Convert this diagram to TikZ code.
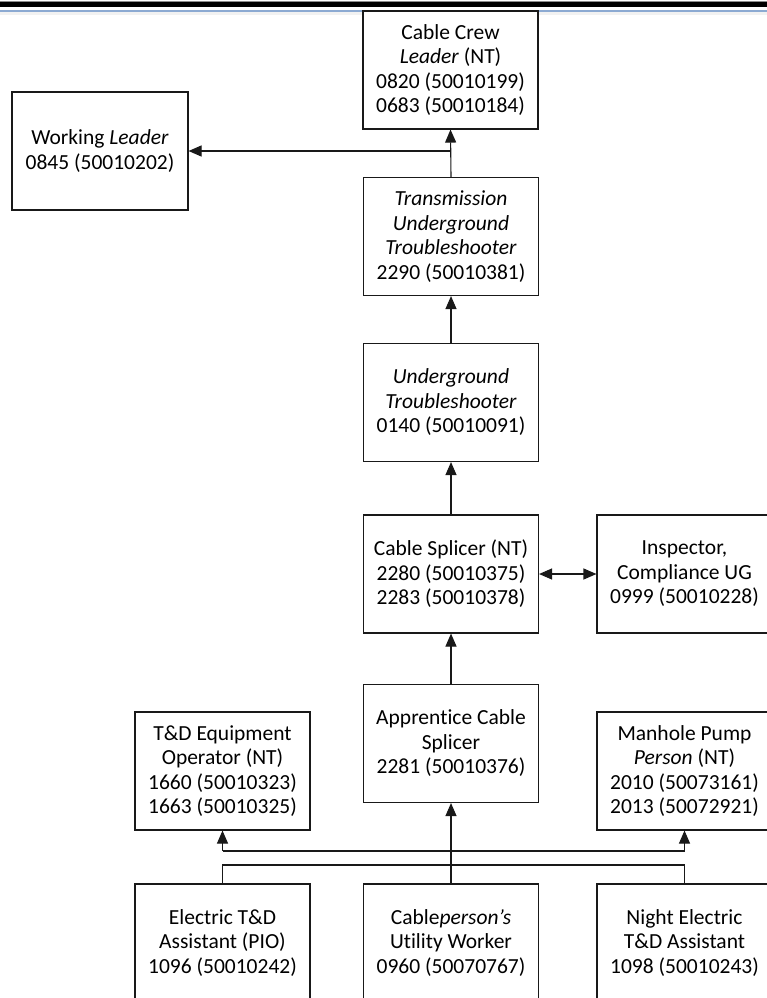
\documentclass[tikz,border=0pt]{standalone}
\usepackage{fontspec}
\setmainfont{Carlito}[Ligatures={NoCommon}]
\usetikzlibrary{arrows.meta}
\definecolor{rulebl}{RGB}{140,170,210}
\begin{document}
\begin{tikzpicture}[x=1pt,y=-1pt,
  box/.style={draw=black!90, line width=1.1pt, fill=white, minimum width=175pt,
    minimum height=118pt, align=center, inner sep=0pt,
    font=\fontsize{21.5}{24.5}\selectfont},
  conn/.style={line width=1.1pt, draw=black!90},
  arr/.style={conn, -{Triangle[length=13pt,width=11pt]}},
  dblarr/.style={conn, {Triangle[length=13pt,width=11pt]}-{Triangle[length=13pt,width=11pt]}},
]
\useasboundingbox (0,0) rectangle (767,998);
% header rules
\fill[black!45] (0,1) rectangle (767,2.5);
\fill[black] (0,2.5) rectangle (767,7.5);
\fill[black!5] (0,11.5) rectangle (767,15);
\draw[rulebl, line width=1.8pt] (0,10.8) -- (767,10.8);

% boxes
\node[box] (crew) at (450.5,70) {Cable Crew\\\textit{Leader} (NT)\\0820 (50010199)\\0683 (50010184)};
\node[box, minimum width=176pt] (wl) at (100,151) {Working \textit{Leader}\\0845 (50010202)};
\node[box] (trans) at (451,236.5) {\textit{Transmission}\\\textit{Underground}\\\textit{Troubleshooter}\\2290 (50010381)};
\node[box] (under) at (451,402.5) {\textit{Underground}\\\textit{Troubleshooter}\\0140 (50010091)};
\node[box] (splicer) at (451,574) {Cable Splicer (NT)\\2280 (50010375)\\2283 (50010378)};
\node[box] (insp) at (684.5,574) {Inspector,\\Compliance UG\\0999 (50010228)};
\node[box] (app) at (451,743.5) {Apprentice Cable\\Splicer\\2281 (50010376)};
\node[box] (td) at (222.5,771) {T\&D Equipment\\Operator (NT)\\1660 (50010323)\\1663 (50010325)};
\node[box] (mh) at (684.5,771) {Manhole Pump\\\textit{Person} (NT)\\2010 (50073161)\\2013 (50072921)};
\node[box] (et) at (222.5,943) {Electric T\&D\\Assistant (PIO)\\1096 (50010242)};
\node[box] (cp) at (451,943) {Cable\textit{person’s}\\Utility Worker\\0960 (50070767)};
\node[box] (ne) at (684.5,943) {Night Electric\\T\&D Assistant\\1098 (50010243)};

% junction coordinates
\coordinate (j1) at (450.5,151);
\coordinate (a1) at (222.5,851);
\coordinate (a2) at (684.5,851);
\coordinate (b1) at (222.5,865);
\coordinate (b2) at (684.5,865);

% connectors
\draw[arr] (trans.north) -- (crew.south);
\draw[arr] (j1) -- (wl.east);
\draw[arr] (under.north) -- (trans.south);
\draw[arr] (splicer.north) -- (under.south);
\draw[dblarr] (splicer.east) -- (insp.west);
\draw[arr] (app.north) -- (splicer.south);
\draw[arr] (cp.north) -- (app.south);
\draw[conn] (a1) -- (a2);
\draw[arr] (a1) -- (td.south);
\draw[arr] (a2) -- (mh.south);
\draw[conn] (et.north) -- (b1) -- (b2) -- (ne.north);
\end{tikzpicture}
\end{document}
